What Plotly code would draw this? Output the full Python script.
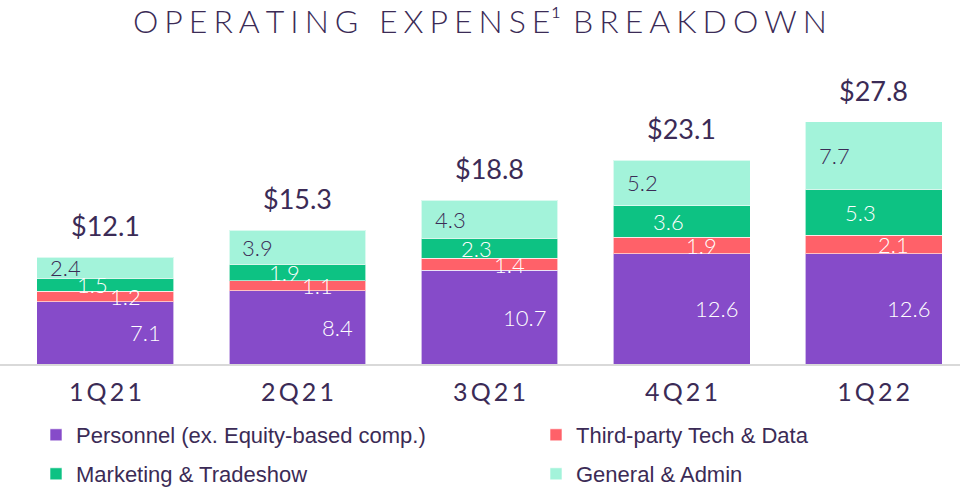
import plotly.graph_objects as go

quarters = ["1Q21", "2Q21", "3Q21", "4Q21", "1Q22"]
personnel = [7.1, 8.4, 10.7, 12.6, 12.6]
third_party = [1.2, 1.1, 1.4, 1.9, 2.1]
marketing = [1.5, 1.9, 2.3, 3.6, 5.3]
general_admin = [2.4, 3.9, 4.3, 5.2, 7.7]
totals = [12.1, 15.3, 18.8, 23.1, 27.8]

series_names = ["Personnel (ex. Equity-based comp.)", "Third-party Tech & Data",
                "Marketing & Tradeshow", "General & Admin"]
series_values = [personnel, third_party, marketing, general_admin]
colors = ["#864bc9", "#ff6169", "#0dc283", "#a3f3da"]
legend_ids = ["legend", "legend2", "legend3", "legend4"]
# legend placement (container px): legend left, row centre
legend_pos = [(36, 435), (536, 435), (36, 474), (536, 474)]

DARK = "#3b2b56"
NUMFONT = "Lato"
W, H = 960, 487

fig = go.Figure()
for name, vals, col, lg in zip(series_names, series_values, colors, legend_ids):
    fig.add_trace(go.Bar(
        x=quarters, y=vals, name=name, marker_color=col,
        marker_line=dict(color="rgba(255,255,255,0.6)", width=1),
        width=0.713, legend=lg, hoverinfo="skip",
    ))

# segment labels
label_style = [
    dict(xanchor="right", xshift=58, color="white"),
    dict(xanchor="center", xshift=20, color="white"),
    dict(xanchor="center", xshift=-13, color="white"),
    dict(xanchor="left", xshift=-57, color=DARK),
]
annotations = []
for i, q in enumerate(quarters):
    base = 0.0
    for s, vals in enumerate(series_values):
        v = vals[i]
        st = label_style[s]
        annotations.append(dict(
            x=q, y=base + v / 2, xref="x", yref="y", text=f"{v:.1f}",
            showarrow=False, xanchor=st["xanchor"], yanchor="middle",
            xshift=st["xshift"],
            font=dict(family=NUMFONT, size=22, color=st["color"], weight=300),
        ))
        base += v
    annotations.append(dict(
        x=q, y=base, xref="x", yref="y", text=f"${totals[i]:.1f}",
        showarrow=False, xanchor="center", yanchor="bottom", yshift=13,
        font=dict(family=NUMFONT, size=27, color=DARK, weight=400),
    ))

sp = "\u2009\u200a"
title_text = sp.join("OPERATING EXPENSE") + "\u00b9" + sp + sp + sp.join("BREAKDOWN")
tick_text = ["\u2009".join(q) for q in quarters]

legends = {}
for lg, (lx, ly) in zip(legend_ids, legend_pos):
    legends[lg] = dict(
        orientation="h", xref="container", yref="container",
        x=lx / W, y=1 - ly / H, xanchor="left", yanchor="middle",
        font=dict(family="Liberation Sans", size=22, color=DARK),
        bgcolor="rgba(0,0,0,0)", itemclick=False, itemdoubleclick=False,
    )

fig.update_layout(
    width=W, height=H,
    margin=dict(l=0, r=0, t=80, b=123, autoexpand=False),
    paper_bgcolor="white", plot_bgcolor="white",
    barmode="stack",
    title=dict(text=title_text, x=0.5, xanchor="center", xref="container",
               y=1 - 22 / H, yanchor="middle", yref="container",
               font=dict(family=NUMFONT, size=32, color=DARK, weight=300)),
    xaxis=dict(range=[-0.549, 4.45], tickvals=quarters, ticktext=tick_text,
               showline=True, linecolor="#d9d9d9", linewidth=2,
               ticks="outside", ticklen=5, tickcolor="rgba(0,0,0,0)",
               tickfont=dict(family=NUMFONT, size=25, color=DARK),
               showgrid=False, fixedrange=True, automargin=False),
    yaxis=dict(range=[0, 284 / 8.75], visible=False, showgrid=False,
               zeroline=False, fixedrange=True),
    annotations=annotations,
    showlegend=True,
    **legends,
)

fig.write_html("out.html", config={"displayModeBar": False},
               post_script="document.body.style.margin='0px';")
